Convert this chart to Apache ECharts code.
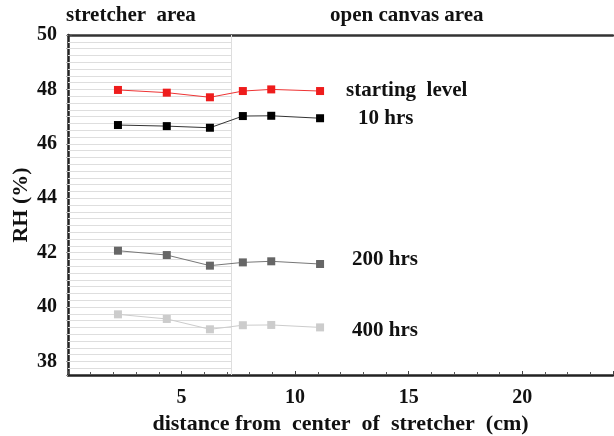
<!DOCTYPE html>
<html>
<head>
<meta charset="utf-8">
<script src="https://cdn.jsdelivr.net/npm/echarts@6/dist/echarts.min.js"></script>
<style>
html,body{margin:0;padding:0;background:#fff;}
#chart{width:614px;height:436px;}
</style>
</head>
<body>
<div id="chart"></div>
<script>
// Data
const distances = [2.2, 4.35, 6.25, 7.7, 8.95, 11.1];
const startingLevel = [47.98, 47.88, 47.71, 47.94, 48.0, 47.94];
const hrs10 = [46.69, 46.65, 46.59, 47.02, 47.03, 46.94];
const hrs200 = [42.07, 41.91, 41.52, 41.64, 41.68, 41.58];
const hrs400 = [39.73, 39.56, 39.18, 39.33, 39.34, 39.25];
const seriesNames = ['starting  level', '10 hrs', '200 hrs', '400 hrs'];
const xTickLabels = ['5', '10', '15', '20'];
const yTickLabels = ['38', '40', '42', '44', '46', '48', '50'];
const stretcherEdge = 7.2;

const FONT = '"Liberation Serif", "Times New Roman", serif';
const yMin = 37.5, yMax = 50;

function pairs(ys) { return distances.map((x, i) => [x, ys[i]]); }

// decorative horizontal stripes inside the stretcher area
const stripes = [];
for (let v = yMin + 0.25; v < yMax - 0.01; v += 0.25) {
  stripes.push([{coord: [0, v]}, {coord: [stretcherEdge, v]}]);
}
stripes.push([{coord: [stretcherEdge, yMin]}, {coord: [stretcherEdge, yMax]}]);

function lineSeries(name, ys, markerColor, lineColor, offset) {
  return {
    type: 'line', name: name, data: pairs(ys),
    symbol: 'rect', symbolSize: 8,
    itemStyle: {color: markerColor},
    lineStyle: {color: lineColor, width: 1},
    z: 5,
    endLabel: {
      show: true, formatter: name, distance: 0, offset: offset,
      fontFamily: FONT, fontWeight: 'bold', fontSize: 21, color: '#111'
    }
  };
}

const chart = echarts.init(document.getElementById('chart'), null, {renderer: 'canvas'});
chart.setOption({
  animation: false,
  backgroundColor: '#fff',
  grid: {left: 68, right: 1, top: 35, bottom: 61, containLabel: false, outerBoundsMode: 'none'},
  xAxis: [{
    type: 'value', min: 0, max: 24, interval: 5,
    axisLine: {show: true, onZero: false, lineStyle: {color: '#222', width: 2.5}},
    axisTick: {show: true, inside: true, length: 4, lineStyle: {color: '#444'}},
    minorTick: {show: true, splitNumber: 5, length: 3, lineStyle: {color: '#555'}},
    splitLine: {show: false},
    axisLabel: {
      showMinLabel: false, showMaxLabel: false, margin: 13,
      fontFamily: FONT, fontWeight: 'bold', fontSize: 20, color: '#111',
      formatter: v => xTickLabels.includes(String(v)) ? String(v) : ''
    },
    name: 'distance from  center  of  stretcher  (cm)',
    nameLocation: 'middle', nameGap: 36,
    nameTextStyle: {fontFamily: FONT, fontWeight: 'bold', fontSize: 22, color: '#111'}
  }, {
    type: 'value', min: 0, max: 24, position: 'top',
    axisLine: {show: true, lineStyle: {color: '#333', width: 2.5}},
    axisTick: {show: false}, axisLabel: {show: false}, splitLine: {show: false}
  }],
  yAxis: [{
    type: 'value', min: yMin, max: yMax, splitNumber: 6,
    axisLine: {show: true, onZero: false, lineStyle: {color: '#222', width: 2.5}},
    axisTick: {show: true, inside: true, length: 4, lineStyle: {color: '#444'}},
    splitLine: {show: false},
    axisLabel: {
      showMinLabel: false, margin: 11,
      fontFamily: FONT, fontWeight: 'bold', fontSize: 20, color: '#111',
      formatter: v => yTickLabels.includes(String(v)) ? String(v) : ''
    },
    name: 'RH (%)', nameLocation: 'middle', nameGap: 36, nameRotate: 90,
    nameMoveOverlap: false,
    nameTextStyle: {fontFamily: FONT, fontWeight: 'bold', fontSize: 22, color: '#111'}
  }, {
    type: 'value', min: yMin, max: yMax, splitNumber: 6, position: 'right',
    axisLine: {show: false},
    axisTick: {show: true, inside: true, length: 2, lineStyle: {color: '#999'}},
    minorTick: {show: true, splitNumber: 4, length: 2, lineStyle: {color: '#bbb'}},
    axisLabel: {show: false}, splitLine: {show: false}
  }],
  series: [
    Object.assign(lineSeries(seriesNames[0], startingLevel, '#ee1c1c', '#ee3333', [26, 0]), {
      markLine: {
        silent: true, symbol: 'none', label: {show: false}, z: 1,
        lineStyle: {type: 'solid', color: '#dedede', width: 1},
        data: stripes
      }
    }),
    lineSeries(seriesNames[1], hrs10, '#000000', '#333333', [38, 0]),
    lineSeries(seriesNames[2], hrs200, '#666666', '#777777', [32, -4]),
    lineSeries(seriesNames[3], hrs400, '#cccccc', '#cccccc', [32, 3])
  ],
  graphic: [
    {type: 'text', left: 66, top: 5, style: {text: 'stretcher  area', font: 'bold 21px ' + FONT, fill: '#111'}},
    {type: 'text', left: 330, top: 5, style: {text: 'open canvas area', font: 'bold 21px ' + FONT, fill: '#111'}}
  ]
});
</script>
</body>
</html>
